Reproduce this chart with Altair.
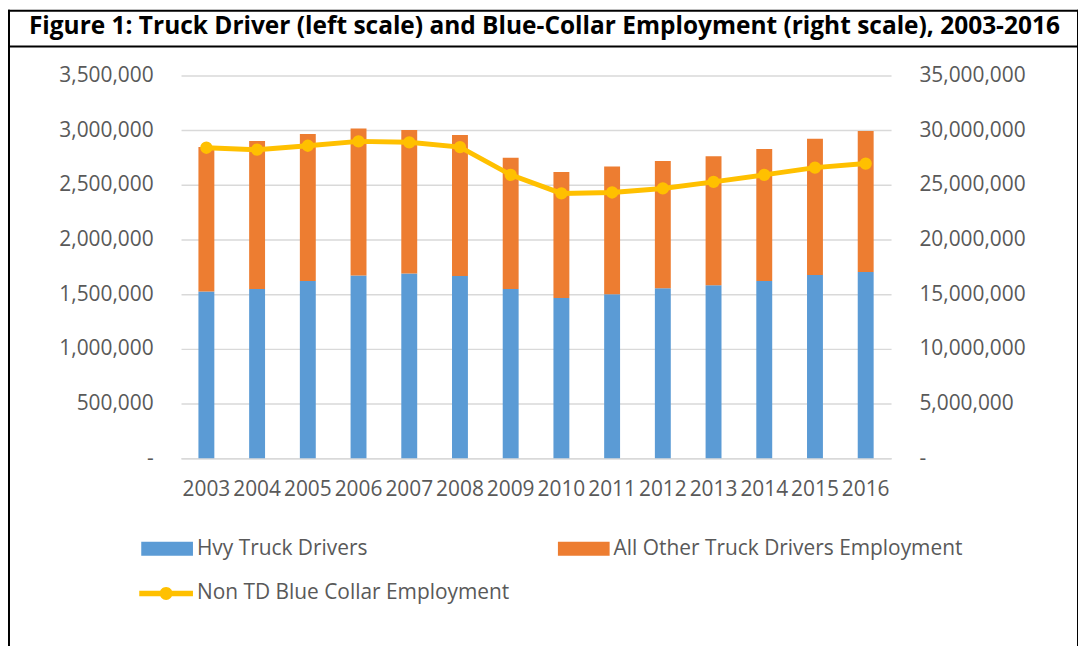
import altair as alt
import pandas as pd

# ---------------- data ----------------
years = ["2003", "2004", "2005", "2006", "2007", "2008", "2009",
         "2010", "2011", "2012", "2013", "2014", "2015", "2016"]
hvy_truck = [1524000, 1548000, 1621000, 1670000, 1690000, 1667000, 1548000,
             1464000, 1500000, 1555000, 1582000, 1621000, 1676000, 1703000]
other_truck = [1321000, 1352000, 1343000, 1345000, 1310000, 1288000, 1200000,
               1154000, 1167000, 1163000, 1179000, 1206000, 1245000, 1288000]
non_td_blue = [28390000, 28210000, 28570000, 28970000, 28880000, 28450000, 25910000,
               24210000, 24300000, 24670000, 25270000, 25910000, 26570000, 26940000]
series_names = ["Hvy Truck Drivers", "All Other Truck Drivers Employment",
                "Non TD Blue Collar Employment"]
left_ticks = [0, 500000, 1000000, 1500000, 2000000, 2500000, 3000000, 3500000]
right_ticks = [0, 5000000, 10000000, 15000000, 20000000, 25000000, 30000000, 35000000]
title_text = "Figure 1: Truck Driver (left scale) and Blue-Collar Employment (right scale), 2003-2016"

# ---------------- styling ----------------
BLUE, ORANGE, YELLOW = "#5B9BD5", "#ED7D31", "#FFC000"
TEXT = "#595959"
GRID = "#D9D9D9"
FONT = "Open Sans"
W, H = 714, 385
PAD = {"left": 174, "top": 66, "right": 188, "bottom": 187}

RECT_PATH = "M-1,-0.27 L1,-0.27 L1,0.27 L-1,0.27 Z"
LINE_PATH = ("M-1,-0.1 L1,-0.1 L1,0.1 L-1,0.1 Z "
             "M0.24,0 A0.24,0.24 0 1,1 -0.24,0 A0.24,0.24 0 1,1 0.24,0 Z")

# ---------------- tables ----------------
rows = []
for i, y in enumerate(years):
    rows.append({"year": y, "value": hvy_truck[i], "series": series_names[0], "rank": 0})
    rows.append({"year": y, "value": other_truck[i], "series": series_names[1], "rank": 1})
bars_df = pd.DataFrame(rows)
line_df = pd.DataFrame({"year": years, "value": non_td_blue, "series": series_names[2]})

x_enc = alt.X(
    "year:O", sort=years, title=None,
    scale=alt.Scale(paddingInner=0.2, paddingOuter=0.1),
    axis=alt.Axis(labelAngle=0, ticks=False, domain=True, domainColor=GRID,
                  domainWidth=1.5, labelPadding=20, labelFontSize=21,
                  labelColor=TEXT, labelFont=FONT, grid=False),
)

bars = alt.Chart(bars_df).mark_bar(size=16).encode(
    x=x_enc,
    y=alt.Y("value:Q", stack="zero", title=None,
            scale=alt.Scale(domain=[0, 3500000], nice=False, zero=True),
            axis=alt.Axis(values=left_ticks, grid=True, gridColor=GRID, gridWidth=1.5,
                          ticks=False, domain=False, labelPadding=28,
                          labelFontSize=21, labelColor=TEXT, labelFont=FONT,
                          labelExpr="datum.value == 0 ? '-\u00a0\u00a0' : format(datum.value, ',')")),
    color=alt.Color("series:N",
                    scale=alt.Scale(domain=series_names[:2], range=[BLUE, ORANGE]),
                    legend=alt.Legend(title=None, orient="none", legendX=-40, legendY=450,
                                      direction="horizontal", columns=2, columnPadding=191,
                                      symbolType=RECT_PATH, symbolSize=2704,
                                      symbolStrokeWidth=0, labelOffset=4,
                                      labelFontSize=21, labelColor=TEXT, labelFont=FONT,
                                      labelLimit=1000, padding=0)),
    order=alt.Order("rank:Q"),
)

y_right = alt.Y("value:Q", title=None,
                scale=alt.Scale(domain=[0, 35000000], nice=False, zero=True),
                axis=alt.Axis(orient="right", values=right_ticks, grid=False, ticks=False,
                              domain=False, labelPadding=28, labelFontSize=21,
                              labelColor=TEXT, labelFont=FONT,
                              labelExpr="datum.value == 0 ? '-' : format(datum.value, ',')"))

line = alt.Chart(line_df).mark_line(color=YELLOW, strokeWidth=5).encode(x=x_enc, y=y_right)
pts = alt.Chart(line_df).mark_circle(size=154, opacity=1).encode(
    x=x_enc, y=y_right,
    fill=alt.Fill("series:N", scale=alt.Scale(domain=[series_names[2]], range=[YELLOW]),
                  legend=alt.Legend(title=None, orient="none", legendX=-42, legendY=494,
                                    symbolType=LINE_PATH, symbolSize=2916,
                                    symbolStrokeWidth=0, labelOffset=4,
                                    labelFontSize=21, labelColor=TEXT, labelFont=FONT,
                                    labelLimit=1000, padding=0)),
)
right = alt.layer(line, pts)

# ---------------- frame + title (decoration) ----------------
one = pd.DataFrame({"k": [0]})
L, R, T, B, SEP = -173, 902, -65, 580, -29
frame_top = alt.Chart(one).mark_rule(color="black", strokeWidth=2, strokeCap="square").encode(
    x=alt.value(L), x2=alt.value(R), y=alt.value(T))
frame_sep = alt.Chart(one).mark_rule(color="black", strokeWidth=2, strokeCap="square").encode(
    x=alt.value(L), x2=alt.value(R), y=alt.value(SEP))
frame_left = alt.Chart(one).mark_rule(color="black", strokeWidth=2, strokeCap="square").encode(
    x=alt.value(L), y=alt.value(T), y2=alt.value(B))
frame_right = alt.Chart(one).mark_rule(color="black", strokeWidth=2, strokeCap="square").encode(
    x=alt.value(R), y=alt.value(T), y2=alt.value(B))
title = alt.Chart(one).mark_text(align="left", baseline="alphabetic", font=FONT,
                                 fontWeight="bold", fontSize=24.6, color="black").encode(
    x=alt.value(-153), y=alt.value(-42), text=alt.value(title_text))

chart = alt.layer(bars, right, frame_top, frame_sep, frame_left, frame_right, title).resolve_scale(
    y="independent"
).properties(
    width=W, height=H, padding=PAD,
    autosize=alt.AutoSizeParams(type="none"),
).configure_view(stroke=None)

chart.save("out.html", embed_options={"renderer": "svg", "actions": False})
